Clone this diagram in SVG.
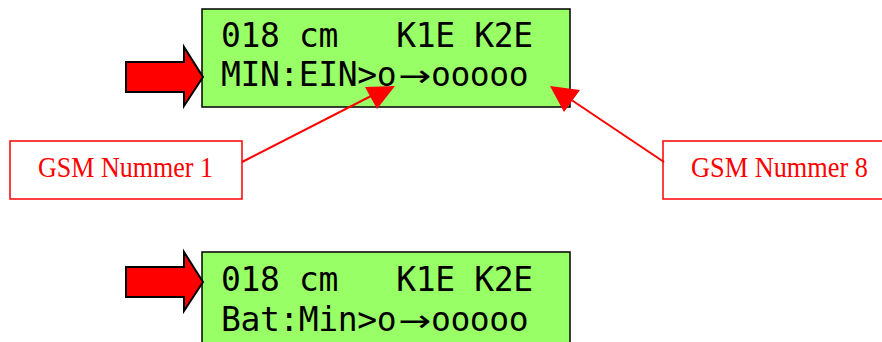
<svg xmlns="http://www.w3.org/2000/svg" width="882" height="342" viewBox="0 0 882 342">
  <style>
    .lcd { fill: #99ff66; stroke: #000; stroke-width: 1.5; }
    .lcdtext { font-family: "DejaVu Sans Mono", "Liberation Mono", monospace; font-size: 33px; fill: #000; }
    .sym { font-family: "DejaVu Sans", "Liberation Sans", sans-serif; font-size: 30px; }
    .block { fill: #ff0000; stroke: #000; stroke-width: 2; stroke-linejoin: miter; }
    .label { fill: #fff; stroke: #ff0000; stroke-width: 1.5; }
    .labeltext { font-family: "Liberation Serif", "Times New Roman", serif; font-size: 29px; fill: #ff0000; text-anchor: middle; }
    .lead { stroke: #ff0000; stroke-width: 2; fill: none; }
    .head { fill: #ff0000; }
  </style>
  <defs>
    <path id="blockArrow" d="M0,15 L58,15 L58,0 L77,30 L58,59 L58,45 L0,45 Z"/>
  </defs>

  <!-- top display -->
  <g id="display-top">
    <rect class="lcd" x="202" y="9" width="368" height="98"/>
    <text class="lcdtext" x="221" y="47" xml:space="preserve" textLength="312">018 cm   K1E K2E</text>
    <text class="lcdtext" y="86"><tspan x="221" textLength="175.5">MIN:EIN&gt;o</tspan><tspan class="sym" x="398" textLength="33" lengthAdjust="spacingAndGlyphs">→</tspan><tspan x="431" textLength="97.5">ooooo</tspan></text>
  </g>
  <g id="pointer-top">
    <use href="#blockArrow" class="block" x="126" y="47"/>
  </g>

  <!-- bottom display -->
  <g id="display-bottom">
    <rect class="lcd" x="202" y="252" width="368" height="100"/>
    <text class="lcdtext" x="221" y="291" xml:space="preserve" textLength="312">018 cm   K1E K2E</text>
    <text class="lcdtext" y="331"><tspan x="221" textLength="175.5">Bat:Min&gt;o</tspan><tspan class="sym" x="398" textLength="33" lengthAdjust="spacingAndGlyphs">→</tspan><tspan x="431" textLength="97.5">ooooo</tspan></text>
  </g>
  <g id="pointer-bottom">
    <use href="#blockArrow" class="block" x="126" y="252"/>
  </g>

  <!-- callout labels -->
  <g id="label-gsm1">
    <rect class="label" x="10" y="141" width="232" height="58"/>
    <text class="labeltext" x="125.5" y="177" textLength="175" lengthAdjust="spacingAndGlyphs">GSM Nummer 1</text>
  </g>
  <g id="label-gsm8">
    <rect class="label" x="663" y="141" width="240" height="58"/>
    <text class="labeltext" x="779.5" y="177" textLength="177" lengthAdjust="spacingAndGlyphs">GSM Nummer 8</text>
  </g>

  <!-- leader lines -->
  <g id="connectors">
    <line class="lead" x1="242" y1="162" x2="375" y2="94"/>
    <polygon class="head" points="395,86 365,87 377,109"/>
    <line class="lead" x1="664" y1="162" x2="570" y2="99"/>
    <polygon class="head" points="550,86 580,90 564,112"/>
  </g>
</svg>
